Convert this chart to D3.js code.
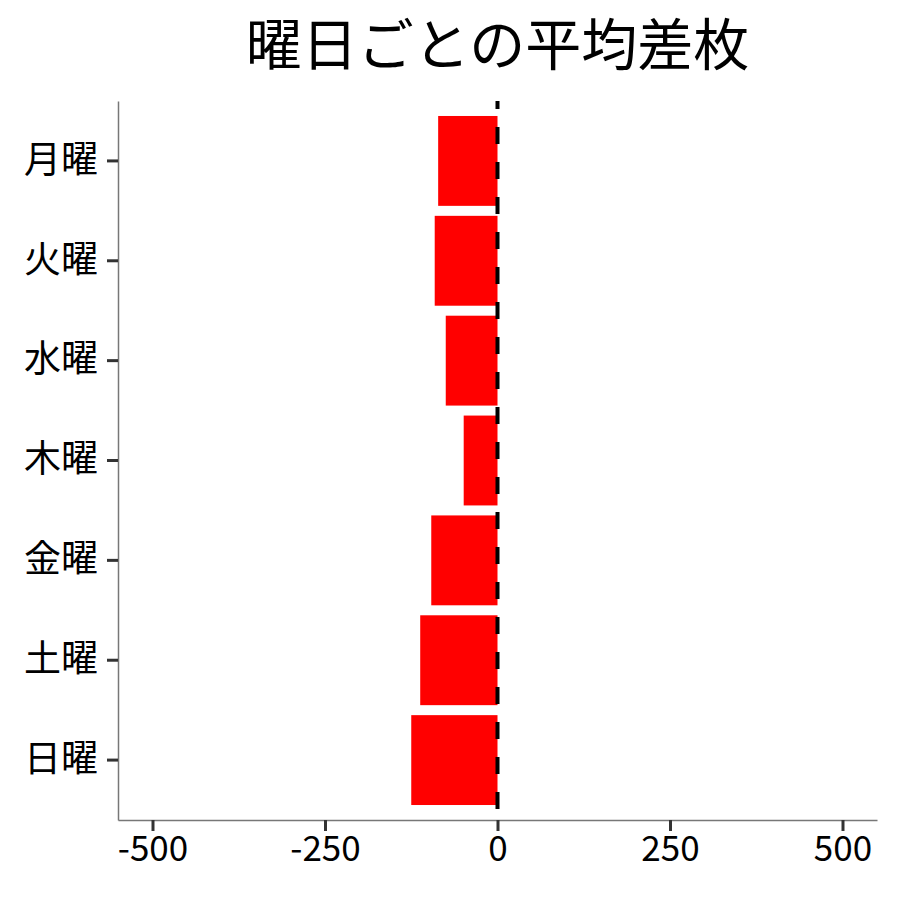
<!DOCTYPE html>
<html>
<head>
<meta charset="utf-8">
<script src="https://cdn.jsdelivr.net/npm/d3@7"></script>
<style>
  body { margin: 0; background: #fff; }
  text { font-family: "Noto Sans CJK JP", "Noto Sans", sans-serif; }
</style>
</head>
<body>
<svg id="chart" width="900" height="900"></svg>
<script>
// 曜日ごとの平均差枚
var days = ["月曜", "火曜", "水曜", "木曜", "金曜", "土曜", "日曜"];
var avgDiff = [-86, -91, -75, -49, -96, -112, -125];
var xTicks = [-500, -250, 0, 250, 500];

var margin = { top: 101, right: 23, bottom: 80, left: 118 };
var width = 900 - margin.left - margin.right,
    height = 900 - margin.top - margin.bottom;

var svg = d3.select('#chart');
var g = svg.append('g')
    .attr('transform', 'translate(' + margin.left + ',' + margin.top + ')');

var x = d3.scaleLinear().domain([-550, 550]).range([0, width]);
// ggplot style: 0.6 step of room outside the first and last band centre
var y = d3.scaleBand().domain(days).range([0, height]).paddingInner(0.1).paddingOuter(0.15);

// bars
g.selectAll('rect.bar')
    .data(days)
    .enter()
    .append('rect')
    .attr('class', 'bar')
    .attr('x', function(d, i) { return x(Math.min(0, avgDiff[i])); })
    .attr('y', function(d) { return y(d); })
    .attr('width', function(d, i) { return Math.abs(x(avgDiff[i]) - x(0)); })
    .attr('height', y.bandwidth())
    .attr('fill', '#ff0000');

// zero line
g.append('line')
    .attr('x1', x(0)).attr('x2', x(0))
    .attr('y1', 0).attr('y2', height)
    .attr('stroke', '#000')
    .attr('stroke-width', 4)
    .attr('stroke-dasharray', '17,18')
    .attr('stroke-dashoffset', 9);

// x axis
var xAxis = g.append('g')
    .attr('transform', 'translate(0,' + height + ')')
    .call(d3.axisBottom(x).tickValues(xTicks).tickSizeInner(11).tickSizeOuter(0).tickPadding(5));
xAxis.select('.domain').attr('stroke', '#777').attr('stroke-width', 1.5);
xAxis.selectAll('.tick line').attr('stroke', '#333').attr('stroke-width', 3);
xAxis.selectAll('.tick text')
    .attr('fill', '#000')
    .style('font-size', '35px')
    .style('font-family', '"Noto Sans CJK JP", "Noto Sans", sans-serif')
    .text(function(d) { return d < 0 ? '-' + Math.abs(d) : d; });

// y axis
var yAxis = g.append('g')
    .call(d3.axisLeft(y).tickSizeInner(11).tickSizeOuter(0).tickPadding(9));
yAxis.select('.domain').attr('stroke', '#777').attr('stroke-width', 1.5);
yAxis.selectAll('.tick line').attr('stroke', '#333').attr('stroke-width', 3);
yAxis.selectAll('.tick text')
    .attr('fill', '#000')
    .style('font-size', '37px')
    .style('font-family', '"Noto Sans CJK JP", "Noto Sans", sans-serif');

// title
svg.append('text')
    .attr('x', margin.left + width / 2)
    .attr('y', 65)
    .attr('text-anchor', 'middle')
    .style('font-size', '56px')
    .attr('fill', '#000')
    .text('曜日ごとの平均差枚');
</script>
</body>
</html>
